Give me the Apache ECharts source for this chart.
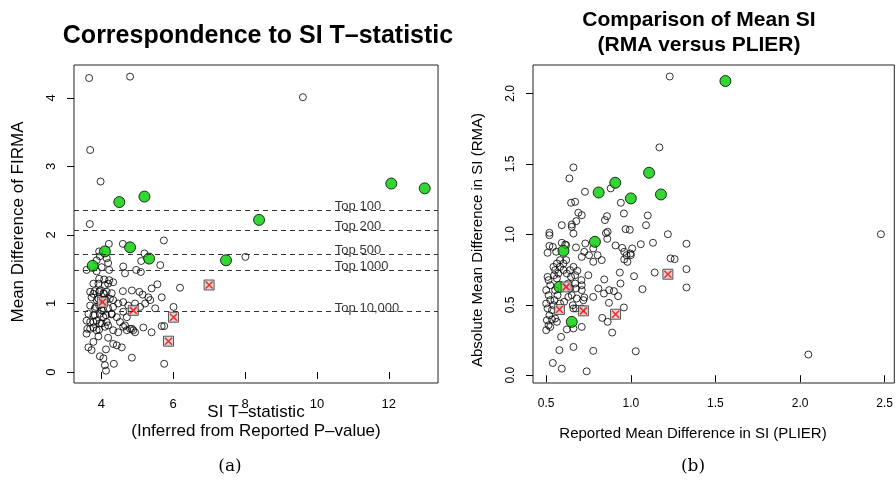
<!DOCTYPE html>
<html>
<head>
<meta charset="utf-8">
<script src="https://cdn.jsdelivr.net/npm/echarts@6/dist/echarts.min.js"></script>
<style>
  html, body { margin: 0; padding: 0; background: #fff; }
  #main { width: 896px; height: 500px; }
</style>
</head>
<body>
<div id="main"></div>
<script>
// panel (a): SI t-statistic vs FIRMA mean difference
const aOpen = [
  [3.66,4.29],[4.80,4.31],[3.69,3.24],[3.98,2.78],[3.68,2.16],[4.21,1.87],[4.60,1.87],[5.74,1.92],[5.20,1.73],[3.94,1.76],[9.61,4.01],[8.01,1.68],
  [3.96,1.69],[4.15,1.66],[3.87,1.63],[4.19,1.59],[4.01,1.53],[4.22,1.49],[3.59,1.49],[3.87,1.47],[4.61,1.54],[4.97,1.49],[5.10,1.46],[5.11,1.62],
  [5.64,1.56],[3.94,1.36],[4.08,1.35],[4.22,1.34],[4.33,1.31],[4.66,1.44],[3.78,1.29],[3.92,1.29],[4.10,1.27],[4.19,1.29],
  [4.60,1.18],[4.85,1.19],[5.06,1.17],[5.40,1.22],[5.56,1.28],[6.19,1.23],[5.68,1.09],[5.31,1.09],[5.15,1.13],[4.29,1.15],[3.69,1.17],[3.82,1.18],
  [3.94,1.17],[4.08,1.14],[3.73,1.09],[3.92,1.07],[4.13,1.05],[4.33,1.05],[4.47,1.00],[4.61,1.02],[4.75,0.97],[4.94,1.00],[5.08,0.95],[5.22,1.00],
  [5.36,1.05],[5.50,0.93],[6.01,0.95],[3.69,0.97],[3.85,0.95],[4.01,0.90],[3.64,0.85],[3.82,0.83],[4.06,0.80],[4.29,0.85],[4.43,0.80],[4.61,0.88],
  [4.71,0.80],[3.59,0.75],[3.78,0.73],[3.96,0.71],[4.19,0.68],[4.52,0.73],[4.61,0.66],[4.80,0.63],[4.89,0.61],[5.17,0.65],[5.40,0.58],[5.68,0.67],
  [5.75,0.67],[3.69,0.63],[3.87,0.61],[3.59,0.56],[3.92,0.52],[4.19,0.50],[4.33,0.61],[4.47,0.58],[3.78,0.44],[3.64,0.36],[3.73,0.32],[4.33,0.41],
  [4.43,0.39],[4.57,0.36],[4.13,0.33],[3.96,0.23],[4.06,0.20],[4.85,0.21],[4.35,0.12],[4.10,0.10],[4.13,0.02],[5.75,0.12],
  [3.78,1.14],[3.96,1.19],[4.06,1.15],[4.15,1.17],[3.87,1.05],[4.10,1.06],[4.24,1.07],[3.82,0.93],[3.94,0.97],[4.06,0.90],[4.19,0.93],[4.33,0.95],
  [3.78,0.83],[3.96,0.85],[4.13,0.83],[4.29,0.84],[3.69,0.73],[3.87,0.75],[4.01,0.71],[4.15,0.73],[3.61,0.63],[3.78,0.65],[3.94,0.62],[4.10,0.66],
  [4.66,0.68],[4.71,0.61],[4.85,0.63],[4.94,0.58]
]
const aGreen = [[4.50,2.48],[5.20,2.56],[4.80,1.82],[4.10,1.76],[12.07,2.75],[13.00,2.68],[8.39,2.22],[7.47,1.63],[5.33,1.655],[3.76,1.55]]
const aCross = [[7.00,1.27],[4.03,1.02],[4.89,0.90],[6.01,0.80],[5.87,0.45]]
const topNames = ['Top 100', 'Top 200', 'Top 500', 'Top 1000', 'Top 10,000']
const topCuts = [2.36, 2.07, 1.715, 1.485, 0.875]
const topLabelX = 10.5
const aTicksX = [4, 6, 8, 10, 12]
const aTicksY = [0, 1, 2, 3, 4]

// panel (b): PLIER vs RMA mean difference
const bOpen = [
  [1.23,2.12],[1.169,1.617],[0.661,1.475],[0.637,1.397],[0.881,1.326],[0.729,1.302],[0.941,1.224],[0.647,1.224],[0.671,1.231],[0.959,1.148],
  [0.69,1.153],[0.71,1.136],[0.859,1.129],[0.847,1.101],[1.1,1.134],[0.678,1.094],[0.651,1.07],[0.592,1.065],[0.651,1.053],[0.969,1.037],
  [0.994,1.032],[1.09,1.065],[0.863,1.018],[0.853,1.009],[0.661,1.006],[0.519,1.011],[0.519,0.994],[1.219,1.001],[0.519,0.918],[0.539,0.911],
  [0.592,0.94],[0.612,0.928],[0.676,0.907],[0.731,0.935],[0.861,0.968],[0.91,0.921],[0.949,0.904],[1.008,0.9],[1.059,0.93],[1.131,0.94],
  [0.998,0.864],[0.961,0.876],[0.975,0.852],[0.508,0.869],[1.235,0.829],[1.259,0.824],[0.559,0.876],[0.618,0.923],[0.725,0.876],[0.71,0.84],
  [0.753,0.852],[0.778,0.9],[0.804,0.852],[0.778,0.805],[0.828,0.817],[1.0,0.852],[0.961,0.822],[0.98,0.805],[1.141,0.729],[1.019,0.703],
  [1.069,0.611],[0.935,0.729],[0.939,0.651],[0.843,0.68],[0.808,0.616],[0.841,0.58],[0.872,0.604],[0.9,0.597],[0.925,0.561],[0.871,0.514],
  [0.959,0.481],[0.749,0.71],[0.684,0.741],[0.647,0.698],[0.671,0.71],[0.708,0.675],[0.71,0.639],[0.676,0.616],[0.71,0.604],[0.725,0.552],
  [0.72,0.533],[0.71,0.474],[0.631,0.556],[0.651,0.568],[0.831,0.407],[0.863,0.379],[0.89,0.303],[0.778,0.556],[0.661,0.474],[0.676,0.474],
  [0.71,0.343],[0.661,0.332],[0.622,0.325],[0.588,0.272],[0.578,0.178],[0.661,0.201],[0.778,0.173],[1.029,0.17],[0.539,0.087],[0.592,0.047],
  [0.739,0.028],[0.508,0.698],[0.514,0.675],[0.524,0.639],[0.5,0.604],[0.514,0.568],[0.524,0.533],[0.5,0.509],[0.508,0.474],[0.534,0.462],
  [0.519,0.426],[0.504,0.391],[0.514,0.355],[0.524,0.343],[0.5,0.32],[0.547,0.71],[0.563,0.687],[0.572,0.722],[0.553,0.746],[0.582,0.769],
  [0.602,0.793],[0.582,0.817],[0.563,0.793],[0.543,0.769],[0.602,0.746],[0.622,0.722],[0.641,0.746],[0.661,0.769],[0.618,0.817],[0.553,0.604],
  [0.567,0.568],[0.549,0.533],[0.582,0.509],[0.606,0.521],[0.543,0.497],[0.553,0.403],[0.563,0.379],[0.534,0.396],[0.641,0.616],[0.671,0.651],
  [0.631,0.651],[0.68,0.545],[0.657,0.497],[1.329,0.933],[1.329,0.753],[1.329,0.623],[2.478,1.001],[2.049,0.147]
]
const bGreen = [[1.559,2.088],[1.108,1.437],[0.908,1.366],[0.81,1.297],[1.178,1.283],[1.0,1.255],[0.788,0.947],[0.602,0.883],[0.651,0.379],[0.578,0.627]]
const bCross = [[1.219,0.717],[0.618,0.627],[0.578,0.467],[0.72,0.457],[0.91,0.433]]
const bTicksX = [0.5, 1.0, 1.5, 2.0, 2.5]
const bTicksY = [0.0, 0.5, 1.0, 1.5, 2.0]

const FONT = 'Liberation Sans'
const CROSS = 'path://M0,0L10,10M10,0L0,10'

const myChart = echarts.init(document.getElementById('main'), null, { renderer: 'canvas' })

function xAxisFor(grid, min, max, ticks, fmt, size) {
  return {
    type: 'value', gridIndex: grid, min: min, max: max,
    axisLine: { show: false }, splitLine: { show: false },
    axisTick: { show: true, customValues: ticks, length: 7, lineStyle: { color: '#000' } },
    axisLabel: { customValues: ticks, margin: 15, color: '#000', fontSize: size, fontFamily: FONT, formatter: fmt }
  }
}
function yAxisFor(grid, min, max, ticks, fmt, size) {
  return {
    type: 'value', gridIndex: grid, min: min, max: max,
    axisLine: { show: false }, splitLine: { show: false },
    axisTick: { show: true, customValues: ticks, length: 7, lineStyle: { color: '#000' } },
    axisLabel: { customValues: ticks, rotate: 90, margin: 16, color: '#000', fontSize: size, fontFamily: FONT, formatter: fmt }
  }
}
function points(grid, data, size, style, symbol) {
  return {
    type: 'scatter', xAxisIndex: grid, yAxisIndex: grid, data: data,
    symbol: symbol || 'circle', symbolSize: size, itemStyle: style, silent: true
  }
}
const openStyle = { color: 'rgba(0,0,0,0)', borderColor: '#000', borderWidth: 1 }
const greenStyle = { color: '#00cc00', borderColor: '#000', borderWidth: 1 }
const boxStyle = { color: '#d0d0d0', borderColor: '#333', borderWidth: 1 }
const crossStyle = { color: 'rgba(0,0,0,0)', borderColor: '#ff0000', borderWidth: 1.6 }

const fmt1 = v => v.toFixed(1)
const fmt0 = v => String(v)

function txt(x, y, text, size, opts) {
  opts = opts || {}
  return {
    type: 'text', x: x, y: y, rotation: opts.rotation || 0,
    style: {
      text: text, fontSize: size, fontFamily: opts.family || FONT, fontWeight: opts.weight || 'normal',
      fill: '#000', align: 'center', verticalAlign: 'middle'
    }
  }
}

const option = {
  animation: false,
  backgroundColor: '#fff',
  grid: [
    { left: 74, top: 65, width: 364, height: 318, show: true, borderColor: '#222', borderWidth: 1, backgroundColor: 'transparent' },
    { left: 533, top: 65, width: 362, height: 318, show: true, borderColor: '#222', borderWidth: 1, backgroundColor: 'transparent' }
  ],
  xAxis: [
    xAxisFor(0, 3.24, 13.37, aTicksX, fmt0, 13),
    xAxisFor(1, 0.422, 2.557, bTicksX, fmt1, 12)
  ],
  yAxis: [
    yAxisFor(0, -0.16, 4.48, aTicksY, fmt0, 13),
    yAxisFor(1, -0.055, 2.2017, bTicksY, fmt1, 12)
  ],
  series: [
    {
      type: 'scatter', xAxisIndex: 0, yAxisIndex: 0, silent: true,
      symbolSize: 0,
      data: topCuts.map((c, i) => [topLabelX, c, topNames[i]]),
      label: { show: true, position: 'right', distance: 0, offset: [0, -4], formatter: p => p.data[2], color: '#000', fontSize: 13, fontFamily: FONT },
      markLine: {
        silent: true, symbol: ['none', 'none'], label: { show: false },
        lineStyle: { type: [5, 4], color: '#333', width: 1 },
        data: topCuts.map(c => ({ yAxis: c }))
      }
    },
    points(0, aOpen, 7, openStyle),
    points(0, aGreen, 11, greenStyle),
    points(0, aCross, 10, boxStyle, 'rect'),
    points(0, aCross, 7, crossStyle, CROSS),
    points(1, bOpen, 7, openStyle),
    points(1, bGreen, 11, greenStyle),
    points(1, bCross, 10, boxStyle, 'rect'),
    points(1, bCross, 7, crossStyle, CROSS)
  ],
  graphic: [
    txt(258, 36, 'Correspondence to SI T\u2013statistic', 25, { weight: 'bold' }),
    txt(699, 20, 'Comparison of Mean SI', 21, { weight: 'bold' }),
    txt(699, 45, '(RMA versus PLIER)', 21, { weight: 'bold' }),
    txt(256, 412, 'SI T\u2013statistic', 17),
    txt(256, 431, '(Inferred from Reported P\u2013value)', 17),
    txt(693, 434, 'Reported Mean Difference in SI (PLIER)', 15),
    txt(18, 222, 'Mean Difference of FIRMA', 17, { rotation: Math.PI / 2 }),
    txt(478, 240, 'Absolute Mean Difference in SI (RMA)', 15, { rotation: Math.PI / 2 }),
    txt(230, 467, '(a)', 17, { family: 'DejaVu Serif' }),
    txt(693, 467, '(b)', 17, { family: 'DejaVu Serif' })
  ]
}

myChart.setOption(option)
</script>
</body>
</html>
